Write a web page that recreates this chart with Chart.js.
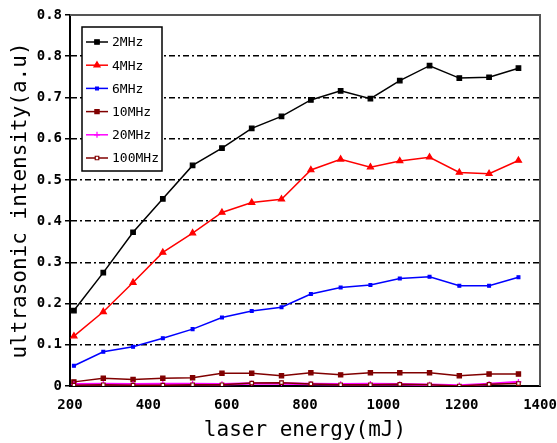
<!DOCTYPE html>
<html>
<head>
<meta charset="utf-8">
<script src="https://cdn.jsdelivr.net/npm/chart.js@4/dist/chart.umd.min.js"></script>
<style>
  html, body { margin: 0; padding: 0; background: #fff; }
  #wrap { width: 557px; height: 443px; }
</style>
</head>
<body>
<div id="wrap"><canvas id="chart"></canvas></div>
<script>
// laser energy (mJ) at each measurement
const energy = [210, 285, 361, 437, 513, 588, 664, 740, 815, 891, 967, 1042, 1118, 1194, 1270, 1345];

// ultrasonic intensity (a.u) per frequency
const mhz2 = [0.183, 0.275, 0.373, 0.454, 0.535, 0.577, 0.625, 0.654, 0.694, 0.716, 0.697, 0.741, 0.777, 0.747, 0.749, 0.771];
const mhz4 = [0.121, 0.180, 0.251, 0.324, 0.371, 0.421, 0.445, 0.453, 0.524, 0.550, 0.531, 0.546, 0.555, 0.518, 0.515, 0.547];
const mhz6 = [0.049, 0.083, 0.095, 0.116, 0.138, 0.166, 0.182, 0.191, 0.223, 0.239, 0.245, 0.261, 0.265, 0.243, 0.243, 0.264];
const mhz10 = [0.010, 0.019, 0.016, 0.019, 0.020, 0.031, 0.031, 0.025, 0.032, 0.027, 0.032, 0.032, 0.032, 0.025, 0.029, 0.029];
const mhz20 = [0.004, 0.005, 0.004, 0.005, 0.005, 0.004, 0.006, 0.006, 0.005, 0.004, 0.005, 0.004, 0.003, 0.001, 0.005, 0.010];
const mhz100 = [0.002, 0.003, 0.002, 0.002, 0.003, 0.003, 0.007, 0.008, 0.005, 0.003, 0.003, 0.004, 0.003, 0.000, 0.004, 0.006];

const seriesNames = ["2MHz", "4MHz", "6MHz", "10MHz", "20MHz", "100MHz"];

// y tick labels as printed on the figure (top one reads 0.8 again)
const yTickLabels = ["0", "0.1", "0.2", "0.3", "0.4", "0.5", "0.6", "0.7", "0.8", "0.8"];

const FONT = "'DejaVu Sans Mono', 'Liberation Mono', monospace";

function pts(ys) {
  return ys.map((y, i) => ({ x: energy[i], y: y }));
}

function series(label, ys, color, style, radius, fill) {
  return {
    label: label,
    data: pts(ys),
    borderColor: color,
    backgroundColor: color,
    borderWidth: 1.5,
    pointStyle: style,
    pointRadius: radius,
    pointBackgroundColor: fill || color,
    pointBorderColor: color,
    pointBorderWidth: 1.2,
    tension: 0,
  };
}

const datasets = [
  series(seriesNames[5], mhz100, "#800000", "rect", 2.5, "#ffffff"),
  series(seriesNames[4], mhz20, "#ff00ff", "cross", 3),
  series(seriesNames[3], mhz10, "#800000", "rect", 3),
  series(seriesNames[2], mhz6, "#0000ff", "rect", 2),
  series(seriesNames[1], mhz4, "#ff0000", "triangle", 3.5),
  series(seriesNames[0], mhz2, "#000000", "rect", 3.2),
];
datasets[1].borderWidth = 2.5;

// box around the plot and a framed legend in the top-left corner
const framePlugin = {
  id: "frame",
  afterDraw(chart) {
    const ctx = chart.ctx;
    const a = chart.chartArea;
    ctx.save();
    ctx.strokeStyle = "#555";
    ctx.lineWidth = 2;
    ctx.beginPath();
    ctx.moveTo(a.left, a.top);
    ctx.lineTo(a.right, a.top);
    ctx.lineTo(a.right, a.bottom);
    ctx.stroke();

    // legend
    const bx = a.left + 12, by = a.top + 12, bw = 80, bh = 144;
    ctx.fillStyle = "#fff";
    ctx.fillRect(bx, by, bw, bh);
    ctx.strokeStyle = "#000";
    ctx.lineWidth = 1.5;
    ctx.strokeRect(bx, by, bw, bh);
    ctx.font = "13px " + FONT;
    ctx.textBaseline = "middle";
    ctx.textAlign = "left";
    for (let i = 0; i < seriesNames.length; i++) {
      const ds = chart.data.datasets.find(d => d.label === seriesNames[i]);
      const y = by + 15 + i * 23.2;
      ctx.strokeStyle = ds.borderColor;
      ctx.lineWidth = 1.5;
      ctx.beginPath();
      ctx.moveTo(bx + 4, y);
      ctx.lineTo(bx + 26, y);
      ctx.stroke();
      ctx.fillStyle = ds.pointBackgroundColor;
      ctx.strokeStyle = ds.pointBorderColor;
      ctx.lineWidth = 1.2;
      Chart.helpers.drawPoint(ctx, {
        pointStyle: ds.pointStyle,
        radius: ds.pointRadius,
        rotation: 0,
        borderWidth: 1.2,
      }, bx + 15, y);
      ctx.fillStyle = "#000";
      ctx.fillText(seriesNames[i], bx + 30, y + 1);
    }
    ctx.restore();
  },
};

new Chart(document.getElementById("chart"), {
  type: "line",
  data: { datasets: datasets },
  options: {
    responsive: true,
    maintainAspectRatio: false,
    animation: false,
    layout: { padding: { top: 15, right: 17, left: 0, bottom: 0 } },
    plugins: {
      legend: { display: false },
      tooltip: { enabled: false },
    },
    scales: {
      x: {
        type: "linear",
        min: 200,
        max: 1400,
        afterFit: s => {
          s.height = 57;
          s.paddingLeft = 0;
          s.paddingRight = 0;
        },
        ticks: {
          stepSize: 200,
          color: "#000",
          font: { family: FONT, size: 14, weight: "bold" },
          padding: 11,
          maxRotation: 0,
          callback: v => String(v),
        },
        grid: { display: true, drawOnChartArea: false, drawTicks: false },
        border: { display: true, color: "#000", width: 2 },
        title: {
          display: true,
          text: "laser energy(mJ)",
          color: "#000",
          font: { family: FONT, size: 21 },
          padding: { top: 0, bottom: 0 },
        },
      },
      y: {
        min: 0,
        max: 0.9,
        afterFit: s => {
          s.width = 70;
          s.paddingTop = 0;
          s.paddingBottom = 0;
        },
        ticks: {
          stepSize: 0.1,
          color: "#000",
          font: { family: FONT, size: 14, weight: "bold" },
          padding: 3,
          callback: (v, i) => yTickLabels[i],
        },
        grid: {
          color: c => (c.tick && (c.tick.value < 0.05 || c.tick.value > 0.85)) ? "rgba(0,0,0,0)" : "#000",
          lineWidth: 1.5,
          tickLength: 5,
          tickColor: "#000",
          tickBorderDash: [],
        },
        border: { display: true, color: "#000", width: 2, dash: [6, 3, 2, 3] },
        title: {
          display: true,
          text: "ultrasonic intensity(a.u)",
          color: "#000",
          font: { family: FONT, size: 21 },
          padding: { top: 8, bottom: 0 },
        },
      },
    },
  },
  plugins: [framePlugin],
});
</script>
</body>
</html>
